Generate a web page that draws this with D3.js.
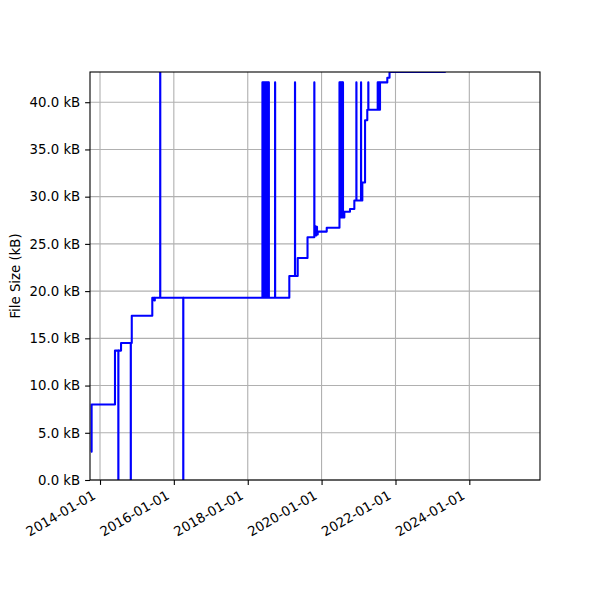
<!DOCTYPE html>
<html>
<head>
<meta charset="utf-8">
<script src="https://cdn.jsdelivr.net/npm/d3@7"></script>
<style>
  body { margin: 0; background: #fff; }
  text { font-family: "DejaVu Sans", sans-serif; }
</style>
</head>
<body>
<svg id="chart" width="600" height="600"></svg>
<script>
// file size history (commit date -> size in kB)
const dates = [
  "2013-10-04", "2013-10-10", "2014-05-29", "2014-07-01", "2014-07-02", "2014-07-28",
  "2014-11-01", "2014-11-02", "2014-11-11", "2015-06-02", "2015-06-22", "2015-06-27",
  "2015-08-19", "2015-08-20", "2016-04-03", "2016-04-04",
  "2018-05-26", "2018-05-27", "2018-06-03", "2018-06-04", "2018-06-11", "2018-06-12",
  "2018-06-19", "2018-06-20", "2018-06-27", "2018-06-28", "2018-07-05", "2018-07-06",
  "2018-07-13", "2018-07-14", "2018-07-21", "2018-07-22", "2018-07-28", "2018-07-29",
  "2018-09-28", "2018-09-29",
  "2019-02-16", "2019-04-13", "2019-04-14", "2019-05-10", "2019-08-15",
  "2019-10-21", "2019-10-22", "2019-10-31", "2019-11-10", "2019-11-17", "2019-11-24",
  "2020-02-21", "2020-06-26", "2020-06-27", "2020-07-03", "2020-07-04", "2020-07-10",
  "2020-07-11", "2020-07-17", "2020-07-18", "2020-07-24", "2020-07-25", "2020-07-30",
  "2020-07-31", "2020-08-13", "2020-10-08", "2020-11-20", "2020-12-10", "2020-12-11",
  "2021-01-25", "2021-01-26", "2021-02-07", "2021-03-06", "2021-03-28", "2021-04-07",
  "2021-04-08", "2021-07-09", "2021-07-10", "2021-07-17", "2021-07-18", "2021-07-25",
  "2021-07-26", "2021-08-01", "2021-10-12", "2021-11-03", "2023-05-13"
];
const sizes = [
  3.0, 8.0, 13.7, 0, 13.7, 14.5,
  0, 14.5, 17.4, 19.3, 19.0, 19.3,
  60, 19.3, 0, 19.3,
  42.1, 19.3, 42.1, 19.3, 42.1, 19.3,
  42.1, 19.3, 42.1, 19.3, 42.1, 19.3,
  42.1, 19.3, 42.1, 19.3, 42.1, 19.3,
  42.1, 19.3,
  21.6, 42.1, 21.6, 23.5, 25.7,
  42.1, 26.9, 25.9, 26.8, 26.0, 26.3,
  26.7, 42.1, 27.8, 42.1, 27.8, 42.1,
  27.8, 42.1, 27.8, 42.1, 27.8, 42.1,
  27.8, 28.4, 28.7, 29.6, 42.1, 29.6,
  42.1, 29.6, 31.5, 38.1, 39.2, 42.1,
  39.2, 42.1, 39.2, 42.1, 39.2, 42.1,
  39.2, 42.1, 42.6, 43.2, 43.2
];
const yTicks = [0, 5, 10, 15, 20, 25, 30, 35, 40];
const xTicks = ["2014-01-01", "2016-01-01", "2018-01-01", "2020-01-01", "2022-01-01", "2024-01-01"];
const xRange = ["2013-09-24", "2025-11-30"];
const yMax = 43.2;

const parse = d3.timeParse("%Y-%m-%d");
const data = dates.map((d, i) => ({date: parse(d), size: sizes[i]}));

const svg = d3.select("#chart"),
  margin = {top: 72, right: 60, bottom: 120, left: 90},
  width = +svg.attr("width") - margin.left - margin.right,
  height = +svg.attr("height") - margin.top - margin.bottom,
  g = svg.append("g").attr("transform", `translate(${margin.left},${margin.top})`);

const x = d3.scaleTime().domain(xRange.map(parse)).range([0, width]);
const y = d3.scaleLinear().domain([0, yMax]).range([height, 0]);

svg.append("defs").append("clipPath").attr("id", "clip")
  .append("rect").attr("width", width).attr("height", height);

// grid
g.append("g").selectAll("line").data(xTicks.map(parse)).join("line")
  .attr("x1", d => x(d)).attr("x2", d => x(d))
  .attr("y1", 0).attr("y2", height)
  .attr("stroke", "#b0b0b0").attr("stroke-width", 1.1);
g.append("g").selectAll("line").data(yTicks).join("line")
  .attr("x1", 0).attr("x2", width)
  .attr("y1", d => y(d)).attr("y2", d => y(d))
  .attr("stroke", "#b0b0b0").attr("stroke-width", 1.1);

const line = d3.line()
  .curve(d3.curveStepAfter)
  .x(d => x(d.date))
  .y(d => y(d.size));

g.append("path")
  .datum(data)
  .attr("clip-path", "url(#clip)")
  .attr("fill", "none")
  .attr("stroke", "#0000ff")
  .attr("stroke-width", 2.08)
  .attr("stroke-linejoin", "round")
  .attr("d", line);

// axes
const xAxis = g.append("g")
  .attr("transform", `translate(0,${height})`)
  .call(d3.axisBottom(x).tickValues(xTicks.map(parse)).tickFormat(d3.timeFormat("%Y-%m-%d"))
    .tickSizeInner(4.9).tickSizeOuter(0).tickPadding(4.9));
xAxis.selectAll("text")
  .attr("text-anchor", "end")
  .attr("dy", 0)
  .attr("y", 0)
  .attr("transform", "translate(-4,18) rotate(-30)");

const yAxis = g.append("g")
  .call(d3.axisLeft(y).tickValues(yTicks).tickFormat(d => d3.format(".1f")(d) + " kB")
    .tickSizeInner(4.9).tickSizeOuter(0).tickPadding(4.9));

[xAxis, yAxis].forEach(a => {
  a.select(".domain").remove();
  a.selectAll("line").attr("stroke", "#000").attr("stroke-width", 1.1);
  a.selectAll("text").attr("font-size", "13.3px").attr("fill", "#000")
    .attr("font-family", "DejaVu Sans, sans-serif");
});

// spines
g.append("rect")
  .attr("width", width).attr("height", height)
  .attr("fill", "none").attr("stroke", "#000").attr("stroke-width", 1.1);

g.append("text")
  .attr("x", -height / 2)
  .attr("y", -70.5)
  .attr("transform", "rotate(-90)")
  .attr("text-anchor", "middle")
  .attr("font-size", "13.3px")
  .text("File Size (kB)");
</script>
</body>
</html>
